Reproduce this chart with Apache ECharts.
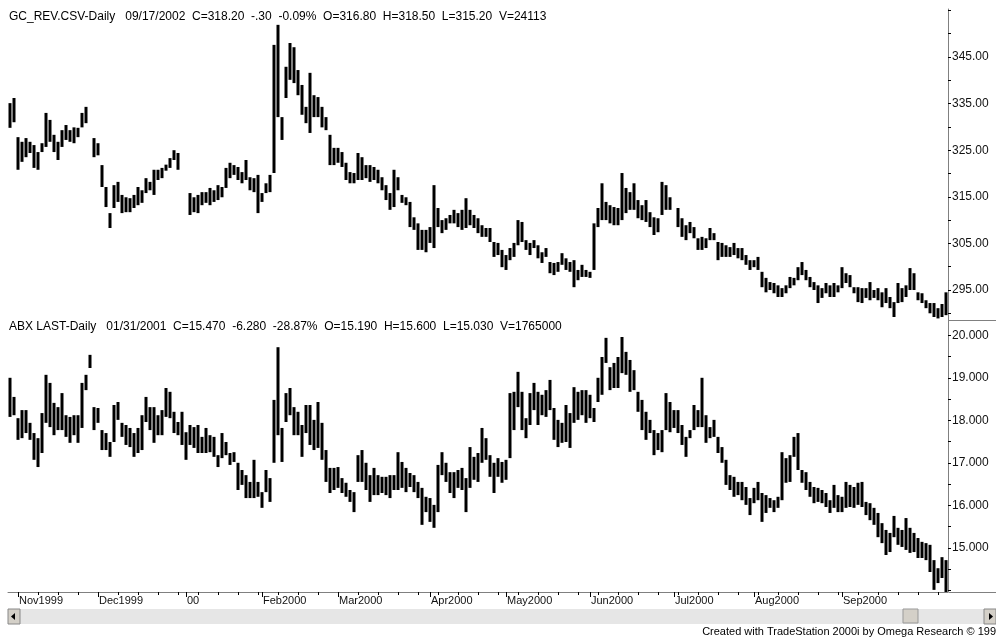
<!DOCTYPE html>
<html>
<head>
<meta charset="utf-8">
<script src="https://cdn.jsdelivr.net/npm/echarts@6/dist/echarts.min.js"></script>
<style>
html,body{margin:0;padding:0;background:#fff;}
#c{width:996px;height:637px;}
</style>
</head>
<body>
<div id="c"></div>
<script>
// ---- Data (daily bars, index 0 = first bar on the left) ----
const topHigh = [
335.1,336.2,327.8,326.8,327.6,326.8,326.1,324.6,326.5,333.0,
331.5,328.3,326.8,329.3,330.4,329.3,329.9,329.8,333.0,334.3,
null,327.6,326.5,321.8,317.1,311.5,317.5,318.2,315.4,314.9,
314.7,315.4,317.1,316.4,319.0,318.2,320.8,320.8,321.2,321.9,
323.3,325.0,324.4,null,null,315.8,314.9,315.4,316.0,316.0,
316.9,316.4,317.5,317.1,321.2,322.3,321.8,321.4,320.3,322.9,
319.2,319.0,319.7,315.8,317.9,319.7,347.6,351.9,332.1,342.9,
348.0,347.1,342.2,339.0,334.3,341.6,336.8,336.4,334.3,332.1,
328.3,325.5,325.5,324.6,322.3,320.3,320.1,324.4,323.5,321.8,
321.8,321.4,320.8,319.2,317.5,315.8,320.8,319.2,315.4,314.9,
313.9,310.6,309.3,307.9,307.9,308.5,317.5,312.6,310.0,310.4,
311.1,312.2,311.5,312.2,314.7,312.2,311.1,310.4,308.9,308.3,
308.3,305.3,305.1,303.6,302.5,304.0,305.1,310.0,309.6,305.7,
305.1,305.7,304.6,303.1,304.0,301.0,300.8,301.0,302.9,301.8,
301.0,301.4,299.3,300.4,299.3,298.9,309.3,312.6,317.9,313.9,
313.2,312.8,312.6,320.1,316.9,316.0,317.9,314.3,313.2,314.3,
311.7,310.6,310.4,318.2,317.5,314.9,null,312.6,310.4,308.9,
309.6,308.5,306.1,306.4,306.1,308.3,307.2,305.3,305.1,304.6,
304.2,305.1,304.0,304.0,302.5,301.4,301.4,302.1,298.9,297.6,
296.7,296.5,296.0,295.4,296.0,297.8,297.6,299.9,301.0,299.3,
297.8,296.7,296.0,295.4,296.5,296.0,296.5,296.0,299.9,298.6,
298.2,295.6,295.6,295.4,295.4,296.7,295.0,295.4,294.5,295.4,
293.5,292.4,296.5,295.4,296.0,299.7,298.6,294.5,294.3,292.8,
292.2,292.2,291.1,292.0,294.5
];
const topLow = [
329.8,331.0,320.8,322.5,323.5,324.4,321.2,320.8,324.6,325.7,
326.8,324.6,322.9,325.7,327.2,326.8,326.5,327.8,329.9,330.8,
null,323.5,323.9,317.1,312.8,308.3,312.6,313.9,311.5,311.7,
311.7,312.6,313.2,313.7,315.8,316.4,315.4,318.6,319.0,320.6,
321.2,322.9,320.8,null,null,311.1,311.7,311.5,313.2,313.7,
313.2,313.9,314.3,314.9,316.9,319.0,319.7,318.6,317.9,318.6,
316.4,316.0,311.5,313.9,315.8,316.0,320.1,332.1,327.2,336.2,
340.1,339.4,336.8,332.6,330.8,328.7,332.1,332.1,329.9,329.3,
321.8,321.8,322.3,321.4,318.6,317.9,317.9,318.6,318.6,319.0,
318.2,318.6,317.9,316.4,314.3,312.2,312.8,316.4,313.7,313.2,
308.5,307.9,303.6,303.6,303.1,305.1,304.0,308.5,307.2,307.9,
309.3,309.3,308.5,307.9,308.3,308.9,308.3,307.2,306.4,306.4,
305.3,302.1,302.5,299.9,299.3,301.4,302.1,304.6,305.3,303.6,
302.5,304.0,301.8,300.8,302.1,298.6,298.2,298.9,300.4,299.3,
298.9,295.6,297.1,297.8,297.8,297.6,299.3,308.5,310.0,310.0,
309.3,308.9,308.9,310.0,311.5,312.2,312.2,310.4,310.0,309.6,
308.5,306.8,307.4,311.1,312.2,312.2,null,308.5,306.4,305.7,
307.2,306.1,303.6,303.6,304.0,305.7,305.7,301.4,302.1,302.1,
302.1,302.5,301.8,301.4,300.4,299.3,299.9,299.3,295.6,294.5,
295.0,294.3,293.5,293.5,294.3,295.4,296.0,297.1,298.2,297.1,
295.6,295.0,292.2,293.3,294.3,293.5,293.5,294.5,295.4,296.5,
295.6,294.3,292.4,292.2,293.3,292.8,293.3,292.8,291.3,292.2,
291.1,289.2,292.2,292.4,293.5,295.0,295.0,292.8,292.2,291.1,
290.0,289.2,288.9,289.2,289.6
];
const botHigh = [
19.00,18.55,18.05,18.24,18.24,17.94,17.70,17.58,18.17,19.07,
18.88,18.41,18.31,18.64,18.12,18.08,18.12,18.12,18.88,19.07,
19.54,18.31,18.29,17.77,17.70,17.49,18.36,18.43,17.94,17.89,
17.82,17.70,17.82,18.12,18.55,18.31,18.31,18.12,18.24,18.76,
18.67,18.20,17.96,18.20,17.72,17.89,17.84,17.89,17.61,17.82,
17.65,17.61,17.18,17.70,17.49,17.23,17.25,17.00,16.83,16.71,
16.55,17.07,16.55,16.31,16.83,16.64,18.48,19.72,17.82,18.64,
18.76,18.31,18.20,17.89,18.36,18.36,18.01,18.43,17.94,17.30,
16.88,16.88,16.90,16.64,16.53,16.36,16.31,17.18,17.30,17.00,
16.71,16.88,16.71,16.67,16.67,16.71,16.71,17.25,17.02,16.88,
16.76,16.71,16.55,16.41,16.20,16.17,16.01,16.95,17.25,17.00,
16.78,16.78,16.83,16.88,16.64,17.37,17.14,17.23,17.82,17.58,
17.18,17.00,17.11,17.02,17.07,18.64,18.67,19.14,18.67,18.05,
18.64,18.88,18.67,18.60,18.71,18.95,18.29,18.01,17.94,18.36,
18.17,18.78,18.67,18.71,18.71,18.60,18.29,19.00,19.49,19.94,
19.25,19.35,19.49,19.96,19.61,19.42,19.18,18.67,18.48,18.20,
18.01,17.77,17.70,17.77,18.64,18.43,18.24,18.24,17.89,17.61,
17.77,18.36,18.24,19.00,18.12,17.84,18.01,17.61,17.37,17.07,
16.71,16.67,16.55,16.55,16.43,16.17,16.41,16.55,16.29,16.24,
16.17,16.12,16.20,17.25,17.11,17.18,17.61,17.70,16.83,16.78,
16.55,16.43,16.41,16.36,16.29,16.12,16.48,16.24,16.20,16.55,
16.48,16.43,16.53,16.55,16.08,16.05,15.94,15.82,15.58,15.42,
15.35,15.75,15.47,15.42,15.70,15.47,15.35,15.23,15.14,15.11,
15.07,14.71,14.52,14.78,14.71
];
const botLow = [
18.08,18.12,17.54,17.58,17.70,17.54,17.07,16.90,17.23,17.94,
17.84,17.65,17.77,17.77,17.61,17.47,17.65,17.47,17.82,18.71,
19.23,17.77,17.94,17.30,17.30,17.14,17.49,18.01,17.61,17.42,
17.37,17.14,17.23,17.30,17.96,17.77,17.47,17.65,17.65,18.08,
18.05,17.70,17.65,17.42,17.07,17.42,17.35,17.23,17.23,17.23,
17.25,17.14,16.90,17.11,17.18,16.95,17.02,16.36,16.48,16.17,
16.17,16.17,16.20,15.94,16.31,16.08,17.00,17.65,17.02,17.96,
18.12,17.65,17.65,17.14,17.70,17.42,17.30,17.35,17.07,16.55,
16.29,16.36,16.41,16.29,16.20,16.08,15.84,16.55,16.55,16.36,
16.08,16.24,16.24,16.29,16.24,16.17,16.36,16.36,16.41,16.31,
16.43,16.31,16.17,15.54,15.84,15.61,15.47,15.84,16.71,16.55,
16.29,16.17,16.41,16.36,15.84,16.41,16.60,16.55,17.00,17.07,
16.67,16.29,16.67,16.53,16.60,17.11,17.77,18.31,17.77,17.58,
17.89,18.24,17.89,18.12,18.08,18.24,17.54,17.37,17.47,17.49,
17.35,17.94,18.01,18.12,17.94,18.05,17.96,18.43,18.60,19.35,
18.71,18.76,18.76,19.11,19.07,18.67,18.71,18.20,17.77,17.54,
17.70,17.18,17.30,17.25,17.77,17.72,17.82,17.70,17.42,17.14,
17.58,17.77,17.84,17.84,17.47,17.58,17.61,17.23,17.00,16.48,
16.36,16.20,16.24,16.12,16.01,15.77,16.05,16.12,15.61,15.82,
15.94,15.84,15.94,16.12,16.53,16.55,17.14,16.83,16.53,16.36,
16.20,16.05,16.08,16.05,15.96,15.82,15.94,15.84,15.84,15.94,
15.96,15.94,16.01,15.96,15.77,15.65,15.54,15.25,15.11,14.83,
14.90,15.25,15.07,15.02,14.95,14.88,14.90,14.76,14.76,14.71,
14.43,14.01,14.17,14.29,13.96
];
const monthLabels = ['Nov1999','Dec1999','00','Feb2000','Mar2000','Apr2000','May2000','Jun2000','Jul2000','Aug2000','Sep2000'];
const monthIdx = [2, 22, 44, 63, 82, 105, 124, 145, 166, 186, 208];
const topTicks = [290,295,300,305,310,315,320,325,330,335,340,345,350,355];
const topLabels = [295,305,315,325,335,345];
const botTicks = [14,14.5,15,15.5,16,16.5,17,17.5,18,18.5,19,19.5,20];
const botLabels = [15,16,17,18,19,20];
const topHeader = 'GC_REV.CSV-Daily   09/17/2002  C=318.20  -.30  -0.09%  O=316.80  H=318.50  L=315.20  V=24113';
const botHeader = 'ABX LAST-Daily   01/31/2001  C=15.470  -6.280  -28.87%  O=15.190  H=15.600  L=15.030  V=1765000';
const footer = 'Created with TradeStation 2000i by Omega Research \u00a9 199';

// ---- Build ----
const N = topHigh.length;
const cats = Array.from({length: N}, (_, i) => String(i));
const labelOf = {};
monthIdx.forEach((ix, k) => { labelOf[ix] = monthLabels[k]; });
function bars(h, l) {
  const out = [];
  for (let i = 0; i < h.length; i++) if (h[i] != null && l[i] != null) out.push([i, h[i], l[i]]);
  return out;
}
function renderBar(params, api) {
  const p1 = api.coord([api.value(0), api.value(1)]);
  const p2 = api.coord([api.value(0), api.value(2)]);
  return {
    type: 'rect',
    shape: { x: Math.round(p1[0]) - 1.5, y: p1[1], width: 3, height: Math.max(2, p2[1] - p1[1]) },
    style: { fill: '#000' }
  };
}
const FONT = "'Liberation Sans', Arial, sans-serif";
const axisGray = '#808080';

const chart = echarts.init(document.getElementById('c'), null, { renderer: 'canvas' });
chart.setOption({
  animation: false,
  backgroundColor: '#fff',
  grid: [
    { left: 8, width: 940, top: 9, height: 311 },
    { left: 8, width: 940, top: 320, height: 272 }
  ],
  xAxis: [
    { type: 'category', gridIndex: 0, data: cats, boundaryGap: true, show: false },
    { type: 'category', gridIndex: 1, data: cats, boundaryGap: true, position: 'bottom',
      axisLine: { show: true, lineStyle: { color: axisGray, width: 1 } },
      axisTick: { show: true, alignWithLabel: true, length: 5, lineStyle: { color: '#000' },
                  interval: (i) => labelOf[i] !== undefined },
      axisLabel: { show: true, interval: (i) => labelOf[i] !== undefined,
                   formatter: (v, i) => labelOf[i] || '', align: 'left', margin: 3,
                   padding: [0, 0, 0, 1],
                   color: '#111', fontSize: 11, fontFamily: FONT },
      splitLine: { show: false } },
    { type: 'category', gridIndex: 1, data: cats, boundaryGap: true, position: 'bottom', offset: 0,
      axisLine: { show: false },
      axisTick: { show: true, alignWithLabel: true, length: 3, lineStyle: { color: '#000' },
                  interval: (i) => i % 5 === 2 },
      axisLabel: { show: false }, splitLine: { show: false } }
  ],
  yAxis: [
    { type: 'value', gridIndex: 0, position: 'right', min: 288.56, max: 355.3, scale: true,
      axisLine: { show: true, lineStyle: { color: axisGray } },
      axisTick: { show: true, length: 3, lineStyle: { color: '#000' }, customValues: topTicks },
      axisLabel: { show: true, customValues: topLabels, formatter: (v) => Number(v).toFixed(2),
                   margin: 4, color: '#111', fontSize: 12, fontFamily: FONT },
      splitLine: { show: false } },
    { type: 'value', gridIndex: 1, position: 'right', min: 13.96, max: 20.36, scale: true,
      axisLine: { show: true, lineStyle: { color: axisGray } },
      axisTick: { show: true, length: 3, lineStyle: { color: '#000' }, customValues: botTicks },
      axisLabel: { show: true, customValues: botLabels, formatter: (v) => Number(v).toFixed(3),
                   margin: 4, color: '#111', fontSize: 12, fontFamily: FONT },
      splitLine: { show: false } }
  ],
  series: [
    { type: 'custom', xAxisIndex: 0, yAxisIndex: 0, renderItem: renderBar,
      data: bars(topHigh, topLow), encode: { x: 0, y: [1, 2] }, clip: true },
    { type: 'custom', xAxisIndex: 1, yAxisIndex: 1, renderItem: renderBar,
      data: bars(botHigh, botLow), encode: { x: 0, y: [1, 2] }, clip: true }
  ],
  graphic: [
    { type: 'text', left: 9, top: 11, style: { text: topHeader, font: "12px " + FONT, fill: '#000' } },
    { type: 'text', left: 9, top: 321, style: { text: botHeader, font: "12px " + FONT, fill: '#000' } },
    { type: 'line', shape: { x1: 949, y1: 320.5, x2: 996, y2: 320.5 }, style: { stroke: axisGray, lineWidth: 1 } },
    { type: 'line', shape: { x1: 949, y1: 592.5, x2: 996, y2: 592.5 }, style: { stroke: axisGray, lineWidth: 1 } },
    // scrollbar track
    { type: 'rect', shape: { x: 20, y: 609, width: 964, height: 15 }, style: { fill: '#e6e6e6' } },
    // left button
    { type: 'rect', shape: { x: 8, y: 609, width: 12, height: 15 }, style: { fill: '#d4d0c8', stroke: '#888', lineWidth: 1 } },
    { type: 'polygon', shape: { points: [[11, 616.5], [15, 613], [15, 620]] }, style: { fill: '#000' } },
    // right button
    { type: 'rect', shape: { x: 984, y: 609, width: 12, height: 15 }, style: { fill: '#d4d0c8', stroke: '#888', lineWidth: 1 } },
    { type: 'polygon', shape: { points: [[993, 616.5], [989, 613], [989, 620]] }, style: { fill: '#000' } },
    // thumb
    { type: 'rect', shape: { x: 903, y: 609, width: 15, height: 14 }, style: { fill: '#d4d0c8', stroke: '#999', lineWidth: 1 } },
    { type: 'text', right: 0, top: 626, style: { text: footer, font: "11px " + FONT, fill: '#000' } }
  ]
});
</script>
</body>
</html>
